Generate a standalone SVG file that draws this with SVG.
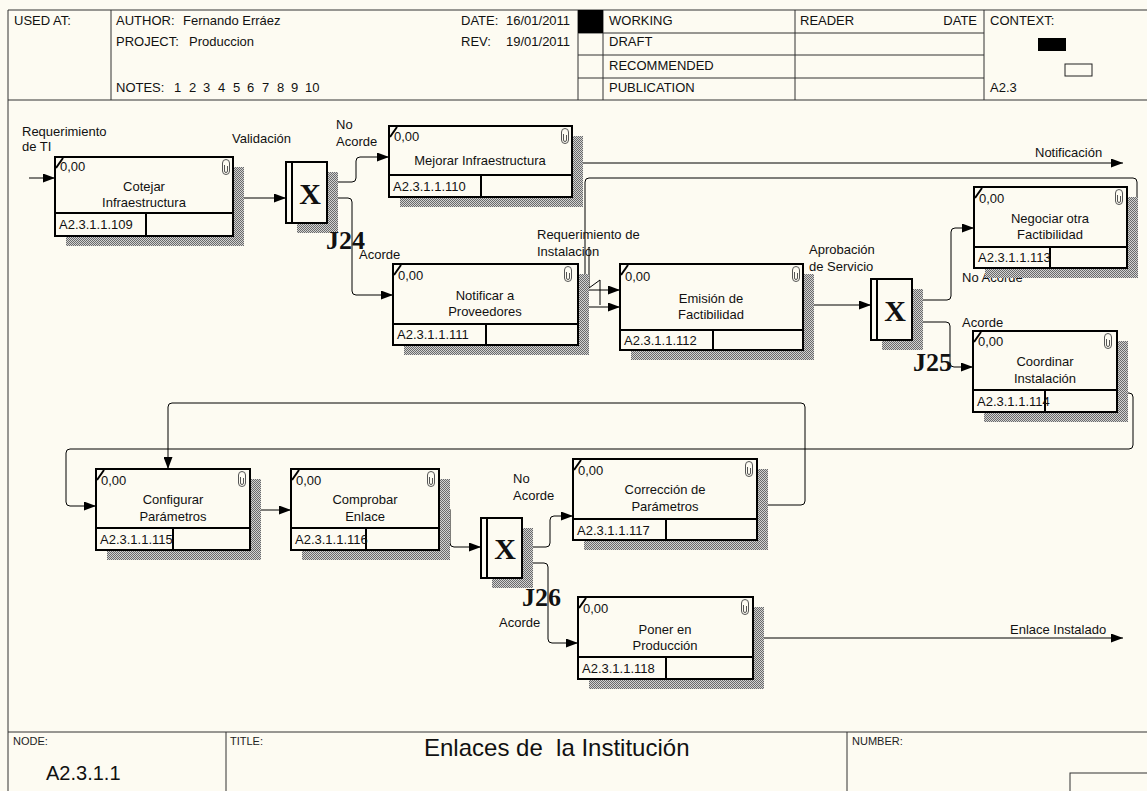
<svg xmlns="http://www.w3.org/2000/svg" xmlns:xlink="http://www.w3.org/1999/xlink" width="1147" height="791" viewBox="0 0 1147 791">
<defs>
<pattern id="hatch" width="2" height="2" patternUnits="userSpaceOnUse">
<rect width="2" height="2" fill="#d2d2d2"/>
<rect width="1" height="1" fill="#6a6a6a"/>
<rect x="1" y="1" width="1" height="1" fill="#6a6a6a"/>
</pattern>
<marker id="ah" viewBox="0 0 12 9" refX="12" refY="4.5" markerWidth="12" markerHeight="9" orient="auto" markerUnits="userSpaceOnUse">
<path d="M0,0 L12,4.5 L0,9 z" fill="#000"/>
</marker>
<g id="clip"><path d="M0.5,4 V12 A3.5,3.5 0 0 0 7.5,12 V4 A3.5,3.5 0 0 0 0.5,4 Z M2.5,6 V12 A1.5,1.5 0 0 0 5.5,12 V7" fill="none" stroke="#555" stroke-width="1"/></g>
</defs>
<style>
.t{font-family:"Liberation Sans",Arial,sans-serif;font-size:13px;fill:#111}
.s{font-family:"Liberation Sans",Arial,sans-serif;font-size:11px;fill:#222}
.c{text-anchor:middle}
.j{font-family:"Liberation Serif","Times New Roman",serif;font-weight:bold;font-size:26px;fill:#111}
.x{font-family:"Liberation Serif","Times New Roman",serif;font-weight:bold;font-size:30px;fill:#111;text-anchor:middle}
.box{fill:#fdfbf2;stroke:#000;stroke-width:2}
.sh{fill:url(#hatch)}
.bl{stroke:#000;stroke-width:2}
.ln{fill:none;stroke:#000;stroke-width:1}
.arr{marker-end:url(#ah)}
.fr{stroke:#333;stroke-width:1;fill:none}
</style>
<rect width="1147" height="791" fill="#fdfbf2"/>

<g id="frame">
<path class="fr" d="M8,10 H1147 M8,10 V791 M8,100 H1147 M111,10 V100 M578,10 V100 M603,10 V100 M795,10 V100 M984,10 V100 M578,33 H984 M578,55 H984 M578,78 H984 M8,732 H1147 M226,732 V791 M847,732 V791"/>
<rect x="578" y="10" width="25" height="23" fill="#000"/>
<rect x="1038" y="38" width="28" height="13" fill="#000"/>
<rect x="1065" y="64" width="27" height="12" fill="none" stroke="#222" stroke-width="1"/>
<rect x="1070" y="773" width="80" height="20" fill="none" stroke="#333" stroke-width="1"/>
<text class="t" x="14" y="25">USED AT:</text>
<text class="t" x="116" y="25">AUTHOR:</text>
<text class="t" x="183" y="25">Fernando Erráez</text>
<text class="t" x="116" y="46">PROJECT:</text>
<text class="t" x="189" y="46">Produccion</text>
<text class="t" x="116" y="92">NOTES:</text>
<text class="t" x="174" y="92">1</text><text class="t" x="189" y="92">2</text><text class="t" x="203" y="92">3</text><text class="t" x="218" y="92">4</text><text class="t" x="233" y="92">5</text><text class="t" x="247" y="92">6</text><text class="t" x="262" y="92">7</text><text class="t" x="277" y="92">8</text><text class="t" x="291" y="92">9</text><text class="t" x="305" y="92">10</text>
<text class="t" x="461" y="25">DATE:</text>
<text class="t" x="506" y="25">16/01/2011</text>
<text class="t" x="461" y="46">REV:</text>
<text class="t" x="506" y="46">19/01/2011</text>
<text class="t" x="609" y="25">WORKING</text>
<text class="t" x="609" y="46">DRAFT</text>
<text class="t" x="609" y="70">RECOMMENDED</text>
<text class="t" x="609" y="92">PUBLICATION</text>
<text class="t" x="800" y="25">READER</text>
<text class="t" x="977" y="25" text-anchor="end">DATE</text>
<text class="t" x="990" y="25">CONTEXT:</text>
<text class="t" x="990" y="92">A2.3</text>
<text class="s" x="13" y="745">NODE:</text>
<text class="s" x="230" y="745">TITLE:</text>
<text class="s" x="852" y="745">NUMBER:</text>
<text class="t" x="46" y="780" style="font-size:20px">A2.3.1.1</text>
<text class="t" x="424" y="756" style="font-size:24px" xml:space="preserve">Enlaces de  la Institución</text>
</g>

<g id="connectors">
<path class="ln arr" d="M29,178 H55"/>
<path class="ln arr" d="M233,198 H286"/>
<path class="ln arr" d="M327,182 H352 Q356,182 356,178 V161 Q356,157 360,157 H389"/>
<path class="ln arr" d="M327,198 H348 Q352,198 352,202 V291 Q352,295 356,295 H393"/>
<path class="ln arr" d="M572,163 H1123"/>
<path class="ln arr" d="M1127,235 H1133 Q1137,235 1137,231 V182 Q1137,178 1133,178 H589 Q585,178 585,182 V286 Q585,290 589,290 H620"/>
<path class="ln arr" d="M578,307 H620"/>
<path class="ln" d="M589,247 V288 L600,280 V305"/>
<path class="ln arr" d="M803,305 H871"/>
<path class="ln arr" d="M912,300 H947 Q951,300 951,296 V232 Q951,228 955,228 H974"/>
<path class="ln arr" d="M912,322 H946 Q950,322 950,326 V363 Q950,367 954,367 H973"/>
<path class="ln arr" d="M1117,393 H1129 Q1133,393 1133,397 V445 Q1133,449 1129,449 H70 Q66,449 66,453 V502 Q66,506 70,506 H96"/>
<path class="ln arr" d="M757,505 H801 Q805,505 805,501 V407 Q805,403 801,403 H172 Q168,403 168,407 V469"/>
<path class="ln arr" d="M250,510 H291"/>
<path class="ln arr" d="M439,506 H446 Q450,506 450,510 V543 Q450,547 454,547 H481"/>
<path class="ln arr" d="M522,547 H546 Q550,547 550,543 V520 Q550,516 554,516 H573"/>
<path class="ln arr" d="M522,563 H544 Q548,563 548,567 V639 Q548,643 552,643 H578"/>
<path class="ln arr" d="M753,638 H1123"/>
<text class="t" x="22" y="136">Requerimiento</text>
<text class="t" x="22" y="151">de TI</text>
<text class="t" x="232" y="143">Validación</text>
<text class="t" x="336" y="129">No</text>
<text class="t" x="336" y="146">Acorde</text>
<text class="t" x="359" y="259">Acorde</text>
<text class="t" x="1035" y="157">Notificación</text>
<text class="t" x="537" y="239">Requerimiento de</text>
<text class="t" x="537" y="256">Instalación</text>
<text class="t" x="809" y="254">Aprobación</text>
<text class="t" x="809" y="271">de Servicio</text>
<text class="t" x="962" y="282">No Acorde</text>
<text class="t" x="962" y="327">Acorde</text>
<text class="t" x="513" y="483">No</text>
<text class="t" x="513" y="500">Acorde</text>
<text class="t" x="499" y="627">Acorde</text>
<text class="t" x="1010" y="634">Enlace Instalado</text>
</g>

<g id="n109">
<rect class="sh" x="66" y="167" width="178" height="79"/>
<rect class="box" x="55" y="157" width="178" height="79"/>
<line class="bl" x1="55" y1="213" x2="233" y2="213"/><line class="bl" x1="146" y1="213" x2="146" y2="236"/>
<line class="bl" x1="56" y1="168" x2="63" y2="158"/>
<use xlink:href="#clip" x="222" y="159"/>
<text class="t" x="60" y="171">0,00</text>
<text class="t c" x="144" y="191">Cotejar</text>
<text class="t c" x="144" y="207">Infraestructura</text>
<text class="t" x="59" y="229">A2.3.1.1.109</text>
</g>

<g id="n110">
<rect class="sh" x="400" y="136" width="183" height="71"/>
<rect class="box" x="389" y="126" width="183" height="71"/>
<line class="bl" x1="389" y1="175" x2="572" y2="175"/><line class="bl" x1="481" y1="175" x2="481" y2="197"/>
<line class="bl" x1="390" y1="137" x2="397" y2="127"/>
<use xlink:href="#clip" x="561" y="128"/>
<text class="t" x="394" y="141">0,00</text>
<text class="t c" x="480" y="165">Mejorar Infraestructura</text>
<text class="t" x="393" y="191">A2.3.1.1.110</text>
</g>

<g id="n111">
<rect class="sh" x="404" y="274" width="185" height="81"/>
<rect class="box" x="393" y="264" width="185" height="81"/>
<line class="bl" x1="393" y1="324" x2="578" y2="324"/><line class="bl" x1="486" y1="324" x2="486" y2="345"/>
<line class="bl" x1="394" y1="275" x2="401" y2="265"/>
<use xlink:href="#clip" x="564" y="266"/>
<text class="t" x="398" y="280">0,00</text>
<text class="t c" x="485" y="300">Notificar a</text>
<text class="t c" x="485" y="316">Proveedores</text>
<text class="t" x="397" y="339">A2.3.1.1.111</text>
</g>

<g id="n112">
<rect class="sh" x="631" y="274" width="183" height="86"/>
<rect class="box" x="620" y="264" width="183" height="86"/>
<line class="bl" x1="620" y1="330" x2="803" y2="330"/><line class="bl" x1="713" y1="330" x2="713" y2="350"/>
<line class="bl" x1="621" y1="275" x2="628" y2="265"/>
<use xlink:href="#clip" x="792" y="266"/>
<text class="t" x="625" y="281">0,00</text>
<text class="t c" x="711" y="303">Emisión de</text>
<text class="t c" x="711" y="319">Factibilidad</text>
<text class="t" x="624" y="345">A2.3.1.1.112</text>
</g>

<g id="n113">
<rect class="sh" x="985" y="197" width="153" height="81"/>
<rect class="box" x="974" y="187" width="153" height="81"/>
<line class="bl" x1="974" y1="247" x2="1127" y2="247"/><line class="bl" x1="1050" y1="247" x2="1050" y2="268"/>
<line class="bl" x1="975" y1="198" x2="982" y2="188"/>
<use xlink:href="#clip" x="1115" y="189"/>
<text class="t" x="979" y="203">0,00</text>
<text class="t c" x="1050" y="223">Negociar otra</text>
<text class="t c" x="1050" y="239">Factibilidad</text>
<text class="t" x="978" y="262">A2.3.1.1.113</text>
</g>

<g id="n114">
<rect class="sh" x="984" y="341" width="144" height="81"/>
<rect class="box" x="973" y="331" width="144" height="81"/>
<line class="bl" x1="973" y1="390" x2="1117" y2="390"/><line class="bl" x1="1045" y1="390" x2="1045" y2="412"/>
<line class="bl" x1="974" y1="342" x2="981" y2="332"/>
<use xlink:href="#clip" x="1104" y="333"/>
<text class="t" x="978" y="346">0,00</text>
<text class="t c" x="1045" y="366">Coordinar</text>
<text class="t c" x="1045" y="383">Instalación</text>
<text class="t" x="977" y="406">A2.3.1.1.114</text>
</g>

<g id="n115">
<rect class="sh" x="107" y="479" width="154" height="81"/>
<rect class="box" x="96" y="469" width="154" height="81"/>
<line class="bl" x1="96" y1="528" x2="250" y2="528"/><line class="bl" x1="173" y1="528" x2="173" y2="550"/>
<line class="bl" x1="97" y1="480" x2="104" y2="470"/>
<use xlink:href="#clip" x="238" y="471"/>
<text class="t" x="101" y="485">0,00</text>
<text class="t c" x="173" y="504">Configurar</text>
<text class="t c" x="173" y="521">Parámetros</text>
<text class="t" x="100" y="544">A2.3.1.1.115</text>
</g>

<g id="n116">
<rect class="sh" x="302" y="479" width="148" height="81"/>
<rect class="box" x="291" y="469" width="148" height="81"/>
<line class="bl" x1="291" y1="528" x2="439" y2="528"/><line class="bl" x1="366" y1="528" x2="366" y2="550"/>
<line class="bl" x1="292" y1="480" x2="299" y2="470"/>
<use xlink:href="#clip" x="427" y="471"/>
<text class="t" x="296" y="485">0,00</text>
<text class="t c" x="365" y="504">Comprobar</text>
<text class="t c" x="365" y="521">Enlace</text>
<text class="t" x="295" y="544">A2.3.1.1.116</text>
</g>

<g id="n117">
<rect class="sh" x="584" y="469" width="184" height="81"/>
<rect class="box" x="573" y="459" width="184" height="81"/>
<line class="bl" x1="573" y1="519" x2="757" y2="519"/><line class="bl" x1="666" y1="519" x2="666" y2="540"/>
<line class="bl" x1="574" y1="470" x2="581" y2="460"/>
<use xlink:href="#clip" x="745" y="461"/>
<text class="t" x="578" y="475">0,00</text>
<text class="t c" x="665" y="494">Corrección de</text>
<text class="t c" x="665" y="511">Parámetros</text>
<text class="t" x="577" y="535">A2.3.1.1.117</text>
</g>

<g id="n118">
<rect class="sh" x="589" y="607" width="175" height="82"/>
<rect class="box" x="578" y="597" width="175" height="82"/>
<line class="bl" x1="578" y1="657" x2="753" y2="657"/><line class="bl" x1="666" y1="657" x2="666" y2="679"/>
<line class="bl" x1="579" y1="608" x2="586" y2="598"/>
<use xlink:href="#clip" x="741" y="599"/>
<text class="t" x="583" y="613">0,00</text>
<text class="t c" x="665" y="634">Poner en</text>
<text class="t c" x="665" y="650">Producción</text>
<text class="t" x="582" y="673">A2.3.1.1.118</text>
</g>

<g id="J24">
<rect class="sh" x="297" y="172" width="41" height="61"/>
<rect class="box" x="286" y="162" width="41" height="61"/>
<line class="bl" x1="292" y1="162" x2="292" y2="223"/>
<text class="x" x="310" y="204">X</text>
<text class="j" x="326" y="249">J24</text>
</g>

<g id="J25">
<rect class="sh" x="882" y="289" width="41" height="61"/>
<rect class="box" x="871" y="279" width="41" height="61"/>
<line class="bl" x1="877" y1="279" x2="877" y2="340"/>
<text class="x" x="895" y="321">X</text>
<text class="j" x="913" y="371">J25</text>
</g>

<g id="J26">
<rect class="sh" x="492" y="528" width="41" height="60"/>
<rect class="box" x="481" y="518" width="41" height="60"/>
<line class="bl" x1="487" y1="518" x2="487" y2="578"/>
<text class="x" x="505" y="559">X</text>
<text class="j" x="522" y="606">J26</text>
</g>
</svg>
